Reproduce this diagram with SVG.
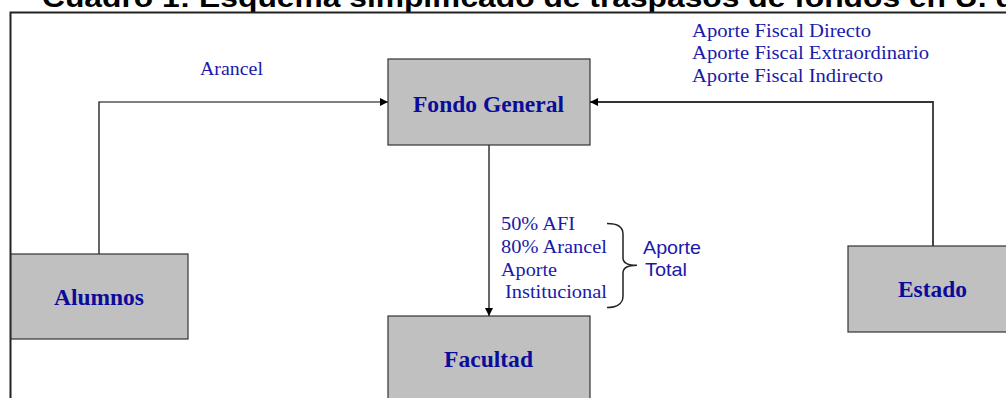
<svg xmlns="http://www.w3.org/2000/svg" width="1006" height="398" viewBox="0 0 1006 398">
  <style>
    .box { fill: #c0c0c0; stroke: #333; stroke-width: 1.2; }
    .bold { font-family: "Liberation Serif", "Times New Roman", serif; font-weight: bold; font-size: 23px; fill: #0c0c9a; }
    .reg { font-family: "Liberation Serif", "Times New Roman", serif; font-size: 19px; fill: #1a1aaa; }
    .sans { font-family: "Liberation Sans", Arial, sans-serif; font-size: 18.5px; fill: #1a1aaa; }
    .title { font-family: "Liberation Sans", Arial, sans-serif; font-weight: bold; font-size: 28px; fill: #000; }
    .conn { fill: none; stroke: #000; stroke-width: 1.2; }
    .frame { fill: none; stroke: #222; stroke-width: 2; }
  </style>
  <defs>
    <marker id="arrow" viewBox="0 0 10 10" refX="10" refY="5" markerWidth="8" markerHeight="8" markerUnits="userSpaceOnUse" orient="auto">
      <path d="M0,0 L10,5 L0,10 Z" fill="#000"/>
    </marker>
  </defs>
  <rect width="1006" height="398" fill="#fff"/>
  <text class="title" x="42" y="7" textLength="1077" lengthAdjust="spacingAndGlyphs">Cuadro 1: Esquema simplificado de traspasos de fondos en U. de Chile</text>
  <path class="frame" d="M10.5,398 V12.5 H1006"/>
  <g id="connectors">
    <path class="conn" d="M99,254 V102 H388" marker-end="url(#arrow)"/>
    <path class="conn" d="M933,246 V102 H590" marker-end="url(#arrow)" style="stroke:#333;stroke-width:1.8"/>
    <path class="conn" d="M489,145 V316" marker-end="url(#arrow)"/>
    <text class="reg" x="200" y="75" textLength="63" lengthAdjust="spacingAndGlyphs">Arancel</text>
    <text class="reg" x="692" y="36.5" textLength="179" lengthAdjust="spacingAndGlyphs">Aporte Fiscal Directo</text>
    <text class="reg" x="692" y="59" textLength="237" lengthAdjust="spacingAndGlyphs">Aporte Fiscal Extraordinario</text>
    <text class="reg" x="692" y="81.5" textLength="191" lengthAdjust="spacingAndGlyphs">Aporte Fiscal Indirecto</text>
    <text class="reg" x="501" y="230" textLength="74" lengthAdjust="spacingAndGlyphs">50% AFI</text>
    <text class="reg" x="501" y="253" textLength="106" lengthAdjust="spacingAndGlyphs">80% Arancel</text>
    <text class="reg" x="501" y="275.5" textLength="56" lengthAdjust="spacingAndGlyphs">Aporte</text>
    <text class="reg" x="505" y="298" textLength="102" lengthAdjust="spacingAndGlyphs">Institucional</text>
    <path d="M607,223.5 C616,223.5 623,226 623,234 V258 C623,263 628,265.3 637,265.3 C628,265.3 623,268 623,273 V296 C623,304 616,307.5 607,307.5" fill="none" stroke="#222" stroke-width="1.5"/>
    <text class="sans" x="643" y="254" textLength="58" lengthAdjust="spacingAndGlyphs">Aporte</text>
    <text class="sans" x="645" y="276" textLength="42" lengthAdjust="spacingAndGlyphs">Total</text>
  </g>
  <g id="fondo-general">
    <rect class="box" x="388" y="59" width="202" height="86"/>
    <text class="bold" x="413" y="112" textLength="151" lengthAdjust="spacingAndGlyphs">Fondo General</text>
  </g>
  <g id="alumnos">
    <rect class="box" x="11" y="254" width="177" height="85"/>
    <text class="bold" x="54" y="305" textLength="90" lengthAdjust="spacingAndGlyphs">Alumnos</text>
  </g>
  <g id="estado">
    <rect class="box" x="848" y="246" width="170" height="86"/>
    <text class="bold" x="898" y="297" textLength="69" lengthAdjust="spacingAndGlyphs">Estado</text>
  </g>
  <g id="facultad">
    <rect class="box" x="388" y="316" width="202" height="90"/>
    <text class="bold" x="444" y="367" textLength="89" lengthAdjust="spacingAndGlyphs">Facultad</text>
  </g>
</svg>
